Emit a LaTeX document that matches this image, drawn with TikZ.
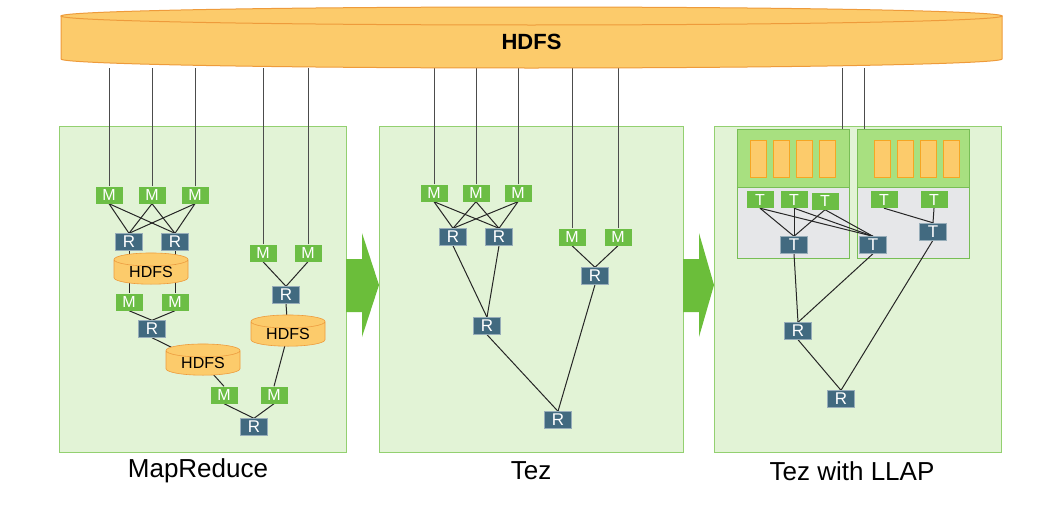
\documentclass[tikz,border=0pt]{standalone}
\usepackage{fontspec}
\setmainfont{Liberation Sans}
\usepackage{tikz}
\usetikzlibrary{shapes.geometric}

\definecolor{hdfsfill}{HTML}{FCCB6B}
\definecolor{hdfsline}{HTML}{EE9B3B}
\definecolor{panelfill}{HTML}{E2F3D6}
\definecolor{panelline}{HTML}{93D070}
\definecolor{mapgreen}{HTML}{6CBE45}
\definecolor{redblue}{HTML}{426A80}
\definecolor{llapgreen}{HTML}{A8E080}
\definecolor{llapline}{HTML}{78BE55}
\definecolor{llapgray}{HTML}{E6E7E9}
\definecolor{arrowgreen}{HTML}{6BBE3A}
\definecolor{barline}{HTML}{F5A623}

\pgfdeclarelayer{back}
\pgfdeclarelayer{wires}
\pgfsetlayers{back,wires,main}

\begin{document}
\begin{tikzpicture}[x=1pt,y=-1pt,
  mbox/.style={fill=mapgreen,text=white,minimum width=27,minimum height=17,inner sep=0,font=\fontsize{16}{16}\selectfont},
  rbox/.style={fill=redblue,draw=redblue!55!white,line width=0.4,text=white,minimum width=27,minimum height=17,inner sep=0,font=\fontsize{17}{17}\selectfont},
  disk/.style={cylinder,shape border rotate=90,aspect=0.3,draw=hdfsline,line width=0.6,minimum width=74,minimum height=29,inner sep=0,
    cylinder uses custom fill,cylinder body fill=hdfsfill,cylinder end fill=hdfsfill,font=\fontsize{16}{16}\selectfont},
  link/.style={draw=black!85,line width=1},
  feed/.style={draw=black!70,line width=0.9},
  panel/.style={fill=panelfill,draw=panelline,line width=1},
  llaptop/.style={fill=llapgreen,draw=llapline,line width=0.8,minimum width=112,minimum height=58,inner sep=0},
  llapbase/.style={fill=llapgray,draw=llapline,line width=0.8,minimum width=112,minimum height=71,inner sep=0},
  bar/.style={fill=hdfsfill,draw=barline,line width=0.6},
  caption/.style={font=\fontsize{26}{26}\selectfont}]
  \useasboundingbox (0,0) rectangle (1046,514);

  % panels and arrows
  \begin{pgfonlayer}{back}
    \draw[panel] (59,126) rectangle (346,452);
    \draw[panel] (379,126) rectangle (683,452);
    \draw[panel] (714,126) rectangle (1001,452);
    \fill[arrowgreen] (346,259) -- (362,259) -- (362,233) -- (379,285) -- (362,337) -- (362,312) -- (346,312) -- cycle;
    \fill[arrowgreen] (683,259) -- (699,259) -- (699,233) -- (714,285) -- (699,337) -- (699,312) -- (683,312) -- cycle;
    \node[llaptop] (cd1) at (793,158) {};
    \node[llapbase] (cg1) at (793,222.5) {};
    \node[llaptop] (cd2) at (913,158) {};
    \node[llapbase] (cg2) at (913,222.5) {};
    \foreach \bx in {750,773,796,819,874,897,920,943}
      \draw[bar] (\bx,140) rectangle ++(16,37);
  \end{pgfonlayer}

  % big HDFS
  \filldraw[fill=hdfsfill,draw=hdfsline,line width=1] (61,16) -- (61,59) arc[start angle=180,end angle=0,x radius=470.5,y radius=9] -- (1002,16) -- cycle;
  \filldraw[fill=hdfsfill,draw=hdfsline,line width=1] (531.5,16) ellipse [x radius=470.5,y radius=9];
  \node[font=\bfseries\fontsize{22}{22}\selectfont] (hdfs) at (531.5,42) {HDFS};
  \coordinate (hb) at (531.5,68);

  % MapReduce
  \node[mbox] (am1) at (109,195) {M};
  \node[mbox] (am2) at (152,195) {M};
  \node[mbox] (am3) at (195,195) {M};
  \node[rbox] (ar1) at (129,242) {R};
  \node[rbox] (ar2) at (175,242) {R};
  \node[disk] (ad1) at (151,272) {HDFS};
  \node[mbox] (am4) at (129,302) {M};
  \node[mbox] (am5) at (175,302) {M};
  \node[rbox] (ar3) at (152,329) {R};
  \node[disk] (ad2) at (203,363) {HDFS};
  \node[mbox] (am6) at (224,395) {M};
  \node[mbox] (am7) at (274,395) {M};
  \node[rbox] (ar4) at (254,427) {R};
  \node[mbox] (am8) at (263,253) {M};
  \node[mbox] (am9) at (308,253) {M};
  \node[rbox] (ar5) at (286,295) {R};
  \node[disk] (ad3) at (288,334) {HDFS};

  % Tez
  \node[mbox] (bm1) at (434,193) {M};
  \node[mbox] (bm2) at (476,193) {M};
  \node[mbox] (bm3) at (518,193) {M};
  \node[rbox] (br1) at (453,237) {R};
  \node[rbox] (br2) at (499,237) {R};
  \node[mbox] (bm4) at (572,237) {M};
  \node[mbox] (bm5) at (618,237) {M};
  \node[rbox] (br3) at (595,276) {R};
  \node[rbox] (br4) at (487,326) {R};
  \node[rbox] (br5) at (558,420) {R};

  % Tez with LLAP
  \node[mbox] (ct1) at (760,199.5) {T};
  \node[mbox] (ct2) at (794,199.5) {T};
  \node[mbox] (ct3) at (825,201) {T};
  \node[mbox] (ct4) at (884,199.5) {T};
  \node[mbox] (ct5) at (934,199.5) {T};
  \node[rbox] (cu1) at (794,245) {T};
  \node[rbox] (cu2) at (873,245) {T};
  \node[rbox] (cu3) at (933,231.5) {T};
  \node[rbox] (cr1) at (798,331) {R};
  \node[rbox] (cr2) at (841,399) {R};

  \node[caption] (l1) at (198,471) {MapReduce};
  \node[caption] (l2) at (531,471) {Tez};
  \node[caption] (l3) at (852,471) {Tez with LLAP};

  \begin{pgfonlayer}{wires}
    \foreach \n in {am1,am2,am3,am8,am9,bm1,bm2,bm3,bm4,bm5}
      \draw[feed] (\n.north) -- (\n.north |- hb);
    \coordinate (cf1) at ([xshift=-7pt]cd1.north east);
    \coordinate (cf2) at ([xshift=8pt]cd2.north west);
    \draw[feed] (cf1) -- (cf1 |- hb);
    \draw[feed] (cf2) -- (cf2 |- hb);

    \foreach \m in {am1,am2,am3}
      \foreach \r in {ar1,ar2}
        \draw[link] (\m.south) -- (\r.north);
    \draw[link] (ar1.south) -- (ar1.south |- ad1.center);
    \draw[link] (ar2.south) -- (ar2.south |- ad1.center);
    \draw[link] (am4.north |- ad1.center) -- (am4.north);
    \draw[link] (am5.north |- ad1.center) -- (am5.north);
    \draw[link] (am4.south) -- (ar3.north);
    \draw[link] (am5.south) -- (ar3.north);
    \draw[link] (ar3.south) -- (ad2.center);
    \draw[link] (ad2.center) -- (am6.north);
    \draw[link] (am8.south) -- (ar5.north);
    \draw[link] (am9.south) -- (ar5.north);
    \draw[link] (ar5.south) -- (ad3.center);
    \draw[link] (ad3.center) -- (am7.north);
    \draw[link] (am6.south) -- (ar4.north);
    \draw[link] (am7.south) -- (ar4.north);

    \foreach \m in {bm1,bm2,bm3}
      \foreach \r in {br1,br2}
        \draw[link] (\m.south) -- (\r.north);
    \draw[link] (br1.south) -- (br4.north);
    \draw[link] (br2.south) -- (br4.north);
    \draw[link] (bm4.south) -- (br3.north);
    \draw[link] (bm5.south) -- (br3.north);
    \draw[link] (br4.south) -- (br5.north);
    \draw[link] (br3.south) -- (br5.north);

    \foreach \m in {ct1,ct2,ct3}
      \foreach \r in {cu1,cu2}
        \draw[link] (\m.south) -- (\r.north);
    \draw[link] (ct4.south) -- (cu3.north);
    \draw[link] (ct5.south) -- (cu3.north);
    \draw[link] (cu1.south) -- (cr1.north);
    \draw[link] (cu2.south) -- (cr1.north);
    \draw[link] (cr1.south) -- (cr2.north);
    \draw[link] (cu3.south) -- (cr2.north);
  \end{pgfonlayer}
\end{tikzpicture}
\end{document}
